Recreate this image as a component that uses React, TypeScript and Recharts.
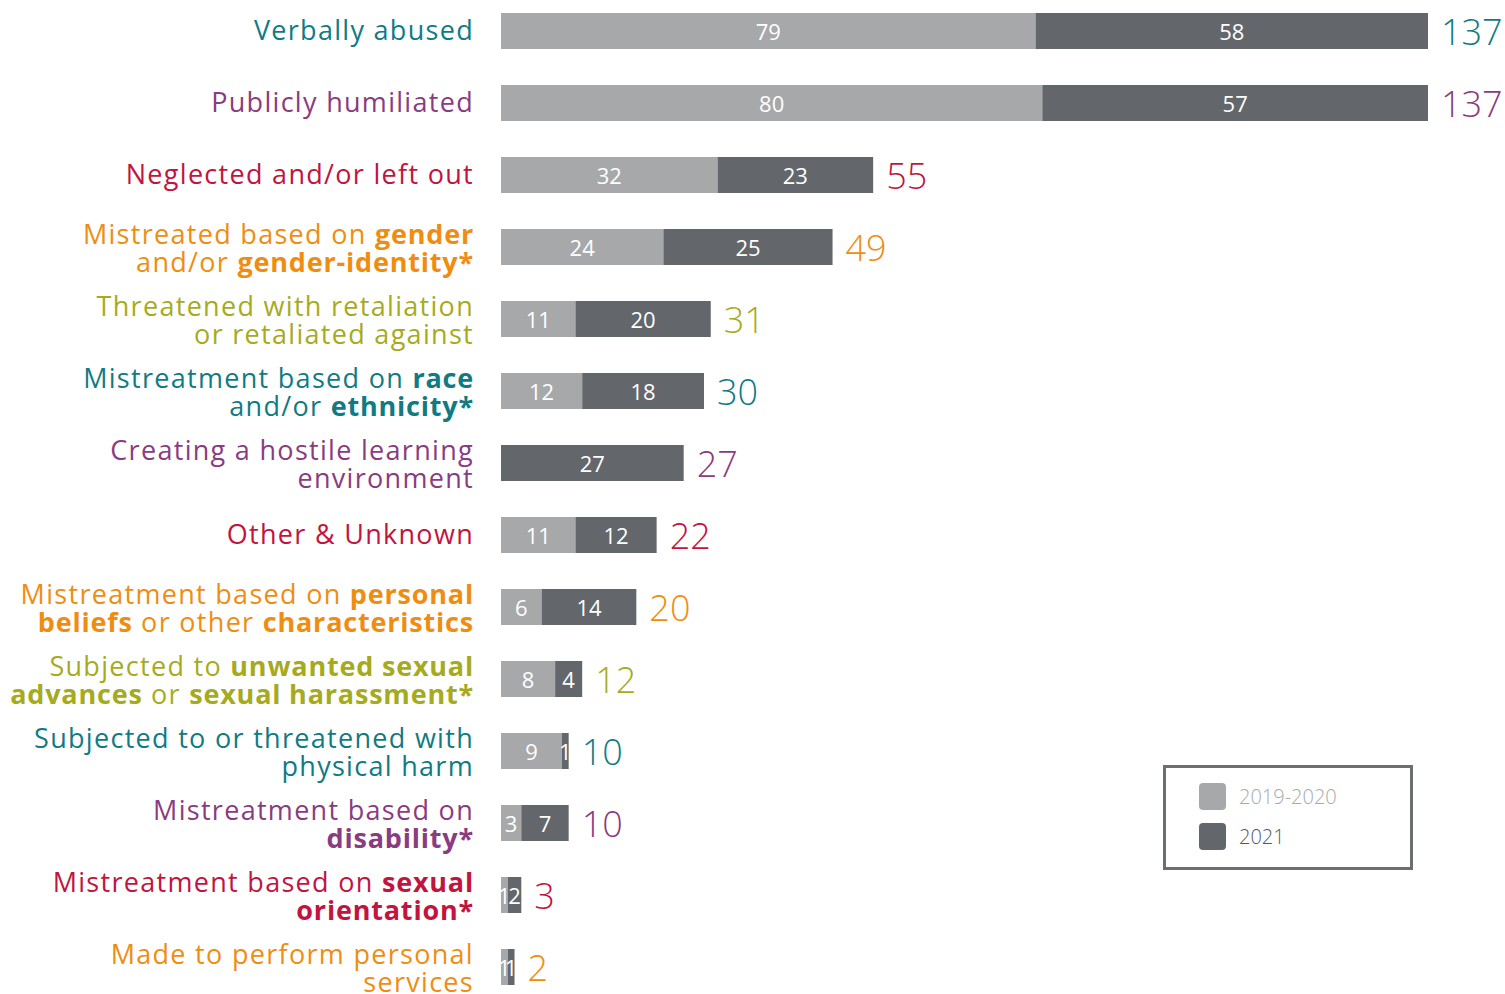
import { FC } from "react";
import { BarChart, Bar, XAxis, YAxis, LabelList } from "recharts";

// "|" breaks a line, {..} is bold
const categories = [
  "Verbally abused",
  "Publicly humiliated",
  "Neglected and/or left out",
  "Mistreated based on {gender}|and/or {gender-identity*}",
  "Threatened with retaliation|or retaliated against",
  "Mistreatment based on {race}|and/or {ethnicity*}",
  "Creating a hostile learning|environment",
  "Other & Unknown",
  "Mistreatment based on {personal}|{beliefs} or other {characteristics}",
  "Subjected to {unwanted sexual}|{advances} or {sexual harassment*}",
  "Subjected to or threatened with|physical harm",
  "Mistreatment based on|{disability*}",
  "Mistreatment based on {sexual}|{orientation*}",
  "Made to perform personal|services",
];

const period2019 = [79, 80, 32, 24, 11, 12, 0, 11, 6, 8, 9, 3, 1, 1];
const period2021 = [58, 57, 23, 25, 20, 18, 27, 12, 14, 4, 1, 7, 2, 1];
const totals = [137, 137, 55, 49, 31, 30, 27, 22, 20, 12, 10, 10, 3, 2];

const TEAL = "#117b83";
const PURPLE = "#893c7f";
const RED = "#c1143f";
const ORANGE = "#ef8d12";
const OLIVE = "#a6ab1e";
const labelColors = [TEAL, PURPLE, RED, ORANGE, OLIVE, TEAL, PURPLE, RED, ORANGE, OLIVE, TEAL, PURPLE, RED, ORANGE];

const LIGHT = "#a7a8aa";
const DARK = "#63666a";
const FONT = "'Open Sans', sans-serif";

const data = categories.map((name, i) => ({
  name,
  a: period2019[i],
  b: period2021[i],
  idx: i,
}));

const CategoryTick: FC<any> = (props) => {
  const { x, y, payload } = props;
  const i = categories.indexOf(payload.value);
  const lines: string[] = String(payload.value).split("|");
  const lh = 28;
  const top = y - ((lines.length - 1) * lh) / 2 - (lines.length === 1 ? 2 : 0);
  return (
    <text
      x={x}
      y={top}
      textAnchor="end"
      dominantBaseline="central"
      fill={labelColors[i]}
      fontSize={27}
      fontFamily={FONT}
      letterSpacing={1.3}
    >
      {lines.map((line, li) => (
        <tspan key={li} x={x} y={top + li * lh}>
          {line
            .split(/(\{[^}]*\})/)
            .filter((s) => s.length > 0)
            .map((seg, si) =>
              seg.startsWith("{") ? (
                <tspan key={si} fontWeight={700} letterSpacing={0.8}>
                  {seg.slice(1, -1)}
                </tspan>
              ) : (
                <tspan key={si}>{seg}</tspan>
              )
            )}
        </tspan>
      ))}
    </text>
  );
};

const SegmentLabel: FC<any> = ({ x, y, width, height, value }) => {
  if (!value) return null;
  return (
    <text
      x={Number(x) + Number(width) / 2}
      y={Number(y) + Number(height) / 2}
      textAnchor="middle"
      dominantBaseline="central"
      fill="#fff"
      fontSize={22}
      fontFamily={FONT}
    >
      {value}
    </text>
  );
};

const TotalLabel: FC<any> = ({ x, y, width, height, value }) => (
  <text
    x={Number(x) + Number(width) + 13}
    y={Number(y) + Number(height) / 2}
    dominantBaseline="central"
    fill={labelColors[value]}
    fontSize={36}
    fontFamily={FONT}
    fontWeight={300}
  >
    {totals[value]}
  </text>
);

const Legend: FC = () => (
  <div
    style={{
      position: "absolute",
      left: 1163,
      top: 765,
      width: 250,
      height: 105,
      border: "3px solid #6d6e71",
      boxSizing: "border-box",
      fontFamily: FONT,
      fontSize: 20,
      fontWeight: 300,
    }}
  >
    {[
      { name: "2019-2020", fill: LIGHT, color: "#a9aaac" },
      { name: "2021", fill: DARK, color: "#58595b" },
    ].map((item, i) => (
      <div
        key={item.name}
        style={{ position: "absolute", left: 33, top: 15 + i * 40, display: "flex", alignItems: "center" }}
      >
        <div style={{ width: 27, height: 27, borderRadius: 4, background: item.fill }} />
        <span style={{ marginLeft: 13, color: item.color }}>{item.name}</span>
      </div>
    ))}
  </div>
);

export default function App() {
  return (
    <div style={{ position: "absolute", left: 0, top: 0, width: 1505, height: 994, overflow: "hidden", background: "#fff" }}>
      <div style={{ position: "absolute", left: 0, top: -5 }}>
        <BarChart
          layout="vertical"
          width={1505}
          height={1008}
          data={data}
          margin={{ top: 0, right: 77, bottom: 0, left: 0 }}
        >
          <XAxis type="number" hide domain={[0, 137]} />
          <YAxis
            type="category"
            dataKey="name"
            width={501}
            interval={0}
            axisLine={false}
            tickLine={false}
            tickSize={0}
            tickMargin={27}
            tick={<CategoryTick />}
          />
          <Bar dataKey="a" stackId="s" fill={LIGHT} barSize={36} isAnimationActive={false}>
            <LabelList dataKey="a" content={<SegmentLabel />} />
          </Bar>
          <Bar dataKey="b" stackId="s" fill={DARK} barSize={36} isAnimationActive={false}>
            <LabelList dataKey="b" content={<SegmentLabel />} />
            <LabelList dataKey="idx" content={<TotalLabel />} />
          </Bar>
        </BarChart>
      </div>
      <Legend />
    </div>
  );
}
